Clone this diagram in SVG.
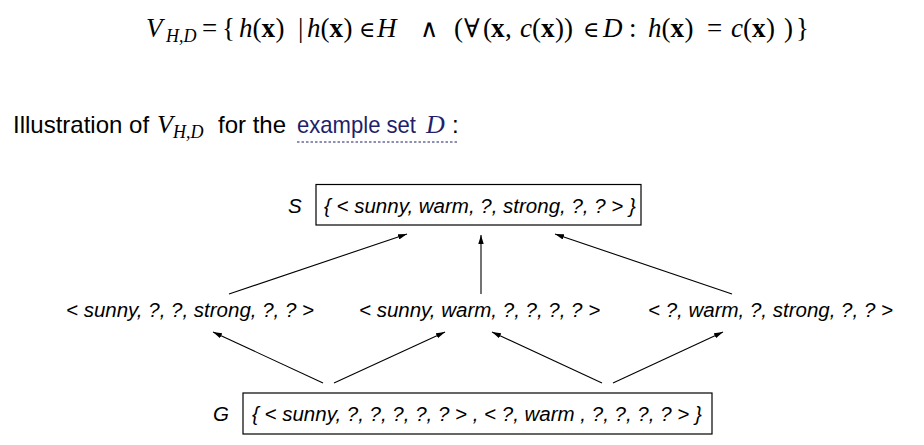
<svg xmlns="http://www.w3.org/2000/svg" width="924" height="445" viewBox="0 0 924 445">
<style>
.m{font-family:"Liberation Serif","DejaVu Serif",serif;font-size:27px;fill:#000}
.mi{font-style:italic}
.mb{font-weight:bold}
.sub{font-size:18px}
.op{font-family:"DejaVu Serif",serif;font-size:22px}
.fa{font-family:"DejaVu Serif",serif;font-size:26px}
.wedge{font-family:"DejaVu Sans",sans-serif;font-size:25px;font-weight:200}
.t{font-family:"Liberation Sans",Arial,sans-serif;font-size:24px;fill:#000}
.lk{fill:#1f1f6b}
.n{font-family:"Liberation Sans",Arial,sans-serif;font-size:20.5px;font-style:italic;fill:#000}
.box{fill:#fff;stroke:#000;stroke-width:1.2}
.c line{stroke:#000;stroke-width:1.1;marker-end:url(#ah)}
</style>
<defs>
<marker id="ah" viewBox="0 0 10 6" refX="10" refY="3" markerWidth="9" markerHeight="5.4" markerUnits="userSpaceOnUse" orient="auto">
<path d="M0,0 L10,3 L0,6 z" fill="#000"/>
</marker>
</defs>
<rect width="924" height="445" fill="#fff"/>
<g id="formula" class="m">
<text y="37"><tspan x="146" class="mi">V</tspan><tspan x="166" y="42" class="mi sub">H,D</tspan><tspan x="202" y="37">=</tspan><tspan x="222">{</tspan><tspan x="239" class="mi">h</tspan><tspan x="252.5">(</tspan><tspan x="261.5" class="mb">x</tspan><tspan x="275.5">)</tspan><tspan x="298">|</tspan><tspan x="307" class="mi">h</tspan><tspan x="320.5">(</tspan><tspan x="329.5" class="mb">x</tspan><tspan x="343.5">)</tspan><tspan x="359" class="op">∈</tspan><tspan x="377" class="mi">H</tspan><tspan x="420" class="wedge">∧</tspan><tspan x="454">(</tspan><tspan x="464" class="fa">∀</tspan><tspan x="483">(</tspan><tspan x="491" class="mb">x</tspan><tspan x="505">,</tspan><tspan x="520" class="mi">c</tspan><tspan x="532">(</tspan><tspan x="541" class="mb">x</tspan><tspan x="555">))</tspan><tspan x="583" class="op">∈</tspan><tspan x="603" class="mi">D</tspan><tspan x="629">:</tspan><tspan x="648" class="mi">h</tspan><tspan x="661.5">(</tspan><tspan x="670.5" class="mb">x</tspan><tspan x="684.5">)</tspan><tspan x="707">=</tspan><tspan x="731" class="mi">c</tspan><tspan x="743">(</tspan><tspan x="752" class="mb">x</tspan><tspan x="766">)</tspan><tspan x="784">)</tspan><tspan x="796">}</tspan></text>
</g>
<g id="caption">
<text x="13" y="133" class="t">Illustration of</text>
<text x="157" y="133" class="m mi" style="font-size:26px">V</text>
<text x="173" y="138" class="m mi sub">H,D</text>
<text x="218" y="133" class="t">for the</text>
<text x="297" y="133" class="t lk" textLength="119" lengthAdjust="spacingAndGlyphs">example set</text>
<text x="426" y="133" class="m mi lk" style="font-size:26px">D</text>
<text x="452" y="133" class="t">:</text>
<line x1="297" y1="142" x2="459" y2="142" stroke="#1f1f6b" stroke-width="1" stroke-dasharray="2.5,2"/>
</g>
<g id="nodeS">
<text x="288" y="213" class="n">S</text>
<rect x="316" y="184.5" width="325" height="40.5" class="box"/>
<text x="324" y="213" class="n">{ &lt; sunny, warm, ?, strong, ?, ? &gt; }</text>
</g>
<g id="node1"><text x="66" y="317" class="n">&lt; sunny, ?, ?, strong, ?, ? &gt;</text></g>
<g id="node2"><text x="359" y="317" class="n">&lt; sunny, warm, ?, ?, ?, ? &gt;</text></g>
<g id="node3"><text x="648" y="317" class="n">&lt; ?, warm, ?, strong, ?, ? &gt;</text></g>
<g id="nodeG">
<text x="213" y="421" class="n">G</text>
<rect x="243" y="393" width="469" height="41" class="box"/>
<text x="252" y="421" class="n">{ &lt; sunny, ?, ?, ?, ?, ? &gt; , &lt; ?, warm , ?, ?, ?, ? &gt; }</text>
</g>
<g id="connectors" class="c">
<line x1="229" y1="294" x2="407" y2="234"/>
<line x1="481" y1="294" x2="481" y2="235"/>
<line x1="732" y1="294" x2="555" y2="234"/>
<line x1="323" y1="383" x2="213" y2="332"/>
<line x1="334" y1="383" x2="445" y2="332"/>
<line x1="602" y1="383" x2="492" y2="332"/>
<line x1="613" y1="383" x2="723" y2="332"/>
</g>
</svg>
